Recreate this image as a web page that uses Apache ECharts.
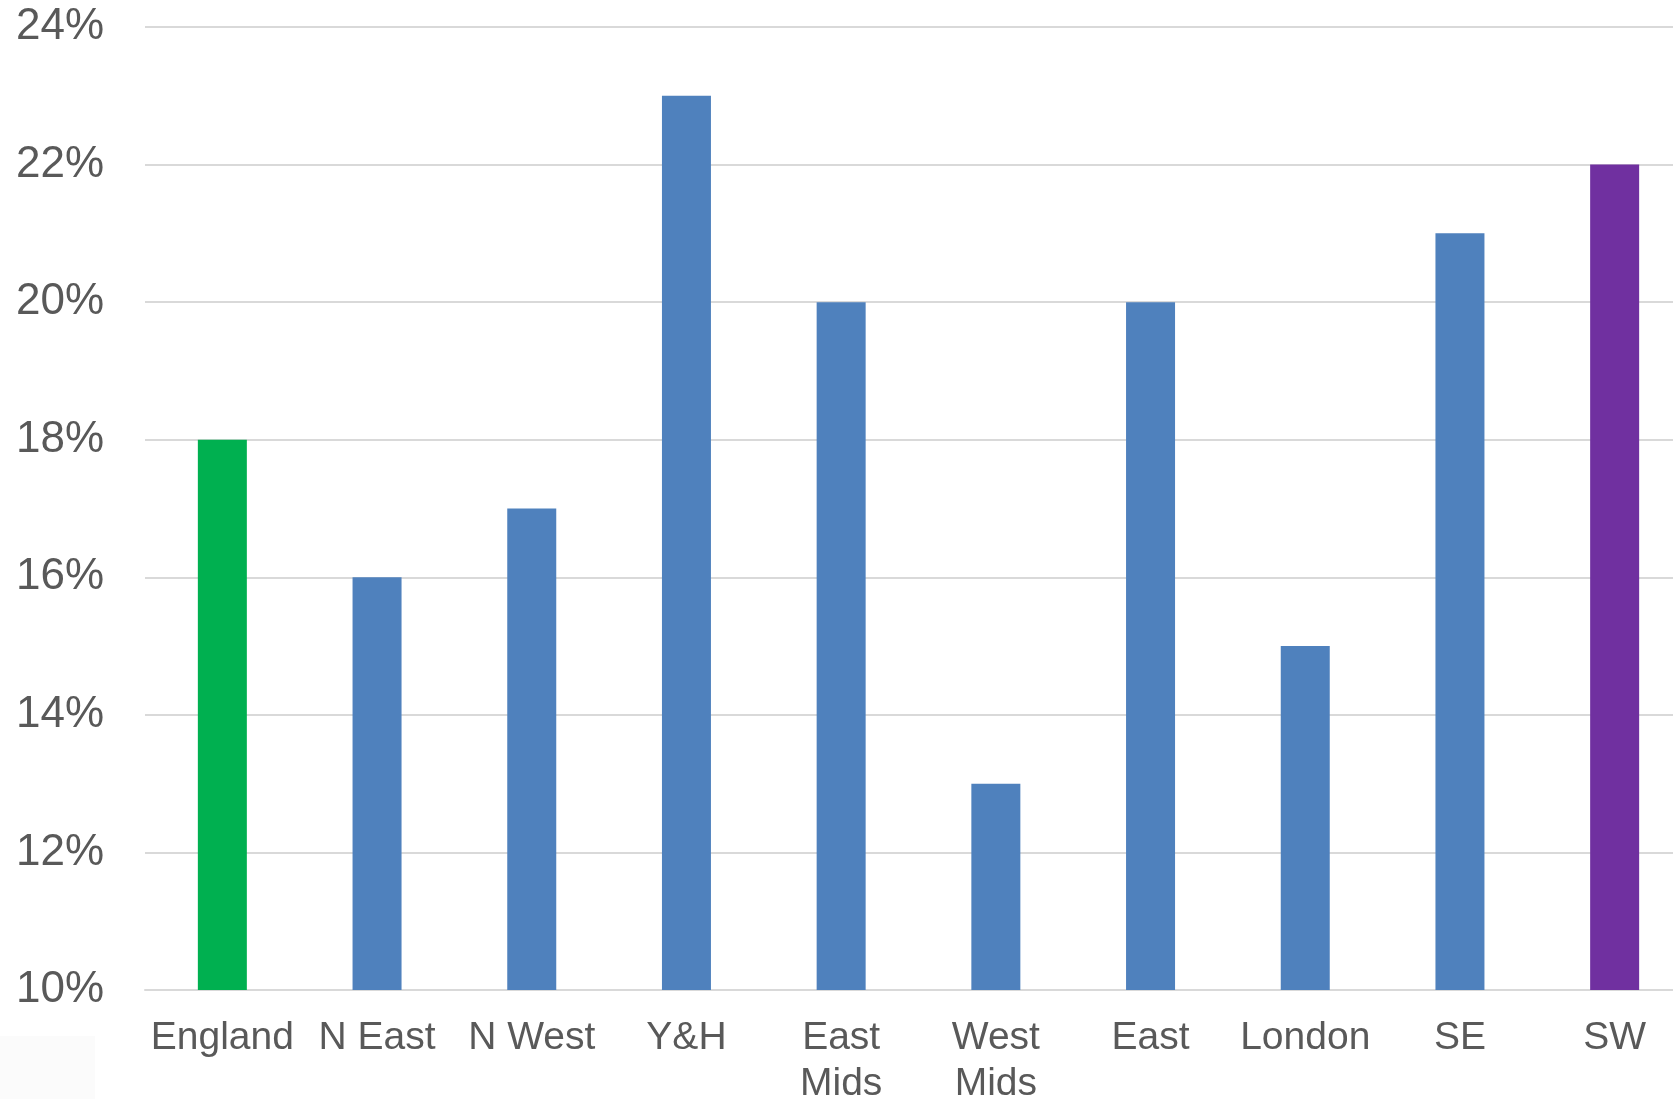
<!DOCTYPE html>
<html>
<head>
<meta charset="utf-8">
<title>Regional rates</title>
<script src="https://cdn.jsdelivr.net/npm/echarts@6/dist/echarts.min.js"></script>
<style>
  html, body { margin: 0; padding: 0; background: #ffffff; overflow: hidden; }
  /* the last category runs a little past the right edge of the view */
  #chart { width: 1692px; height: 1099px; }
</style>
</head>
<body>
<div id="chart"></div>
<script>
// Regions and their rates (percent)
const regions = ['England', 'N East', 'N West', 'Y&H', 'East\nMids', 'West\nMids', 'East', 'London', 'SE', 'SW'];
const rates = [18, 16, 17, 23, 20, 13, 20, 15, 21, 22];
const barColors = ['#00B050', '#4F81BD', '#4F81BD', '#4F81BD', '#4F81BD', '#4F81BD', '#4F81BD', '#4F81BD', '#4F81BD', '#7030A0'];

// Value axis range and step
const yMin = 10;
const yMax = 24;
const yStep = 2;

const chart = echarts.init(document.getElementById('chart'), null, { renderer: 'canvas' });

const textColor = '#595959';
const fontFamily = '"Liberation Sans", Arial, sans-serif';

chart.setOption({
  animation: false,
  backgroundColor: '#ffffff',
  graphic: [{
    type: 'rect',
    left: 0,
    top: 1036,
    shape: { width: 95, height: 63 },
    style: { fill: '#fbfbfb' },
    silent: true,
    z: -1
  }],
  grid: {
    left: 145,
    right: 0,
    top: 27,
    bottom: 109,
    containLabel: false,
    outerBoundsMode: 'none'
  },
  xAxis: {
    type: 'category',
    data: regions,
    axisLine: { show: true, lineStyle: { color: '#d9d9d9', width: 2 } },
    axisTick: { show: false },
    axisLabel: {
      color: textColor,
      fontFamily: fontFamily,
      fontSize: 39,
      lineHeight: 46,
      margin: 25,
      interval: 0
    }
  },
  yAxis: {
    type: 'value',
    min: yMin,
    max: yMax,
    interval: yStep,
    axisLine: { show: false },
    axisTick: { show: false },
    splitLine: { show: true, lineStyle: { color: '#d9d9d9', width: 2 } },
    axisLabel: {
      color: textColor,
      fontFamily: fontFamily,
      fontSize: 44,
      margin: 41,
      formatter: '{value}%'
    }
  },
  series: [{
    type: 'bar',
    data: rates.map((v, i) => ({ value: v, itemStyle: { color: barColors[i] } })),
    barWidth: 49
  }]
});
</script>
</body>
</html>
